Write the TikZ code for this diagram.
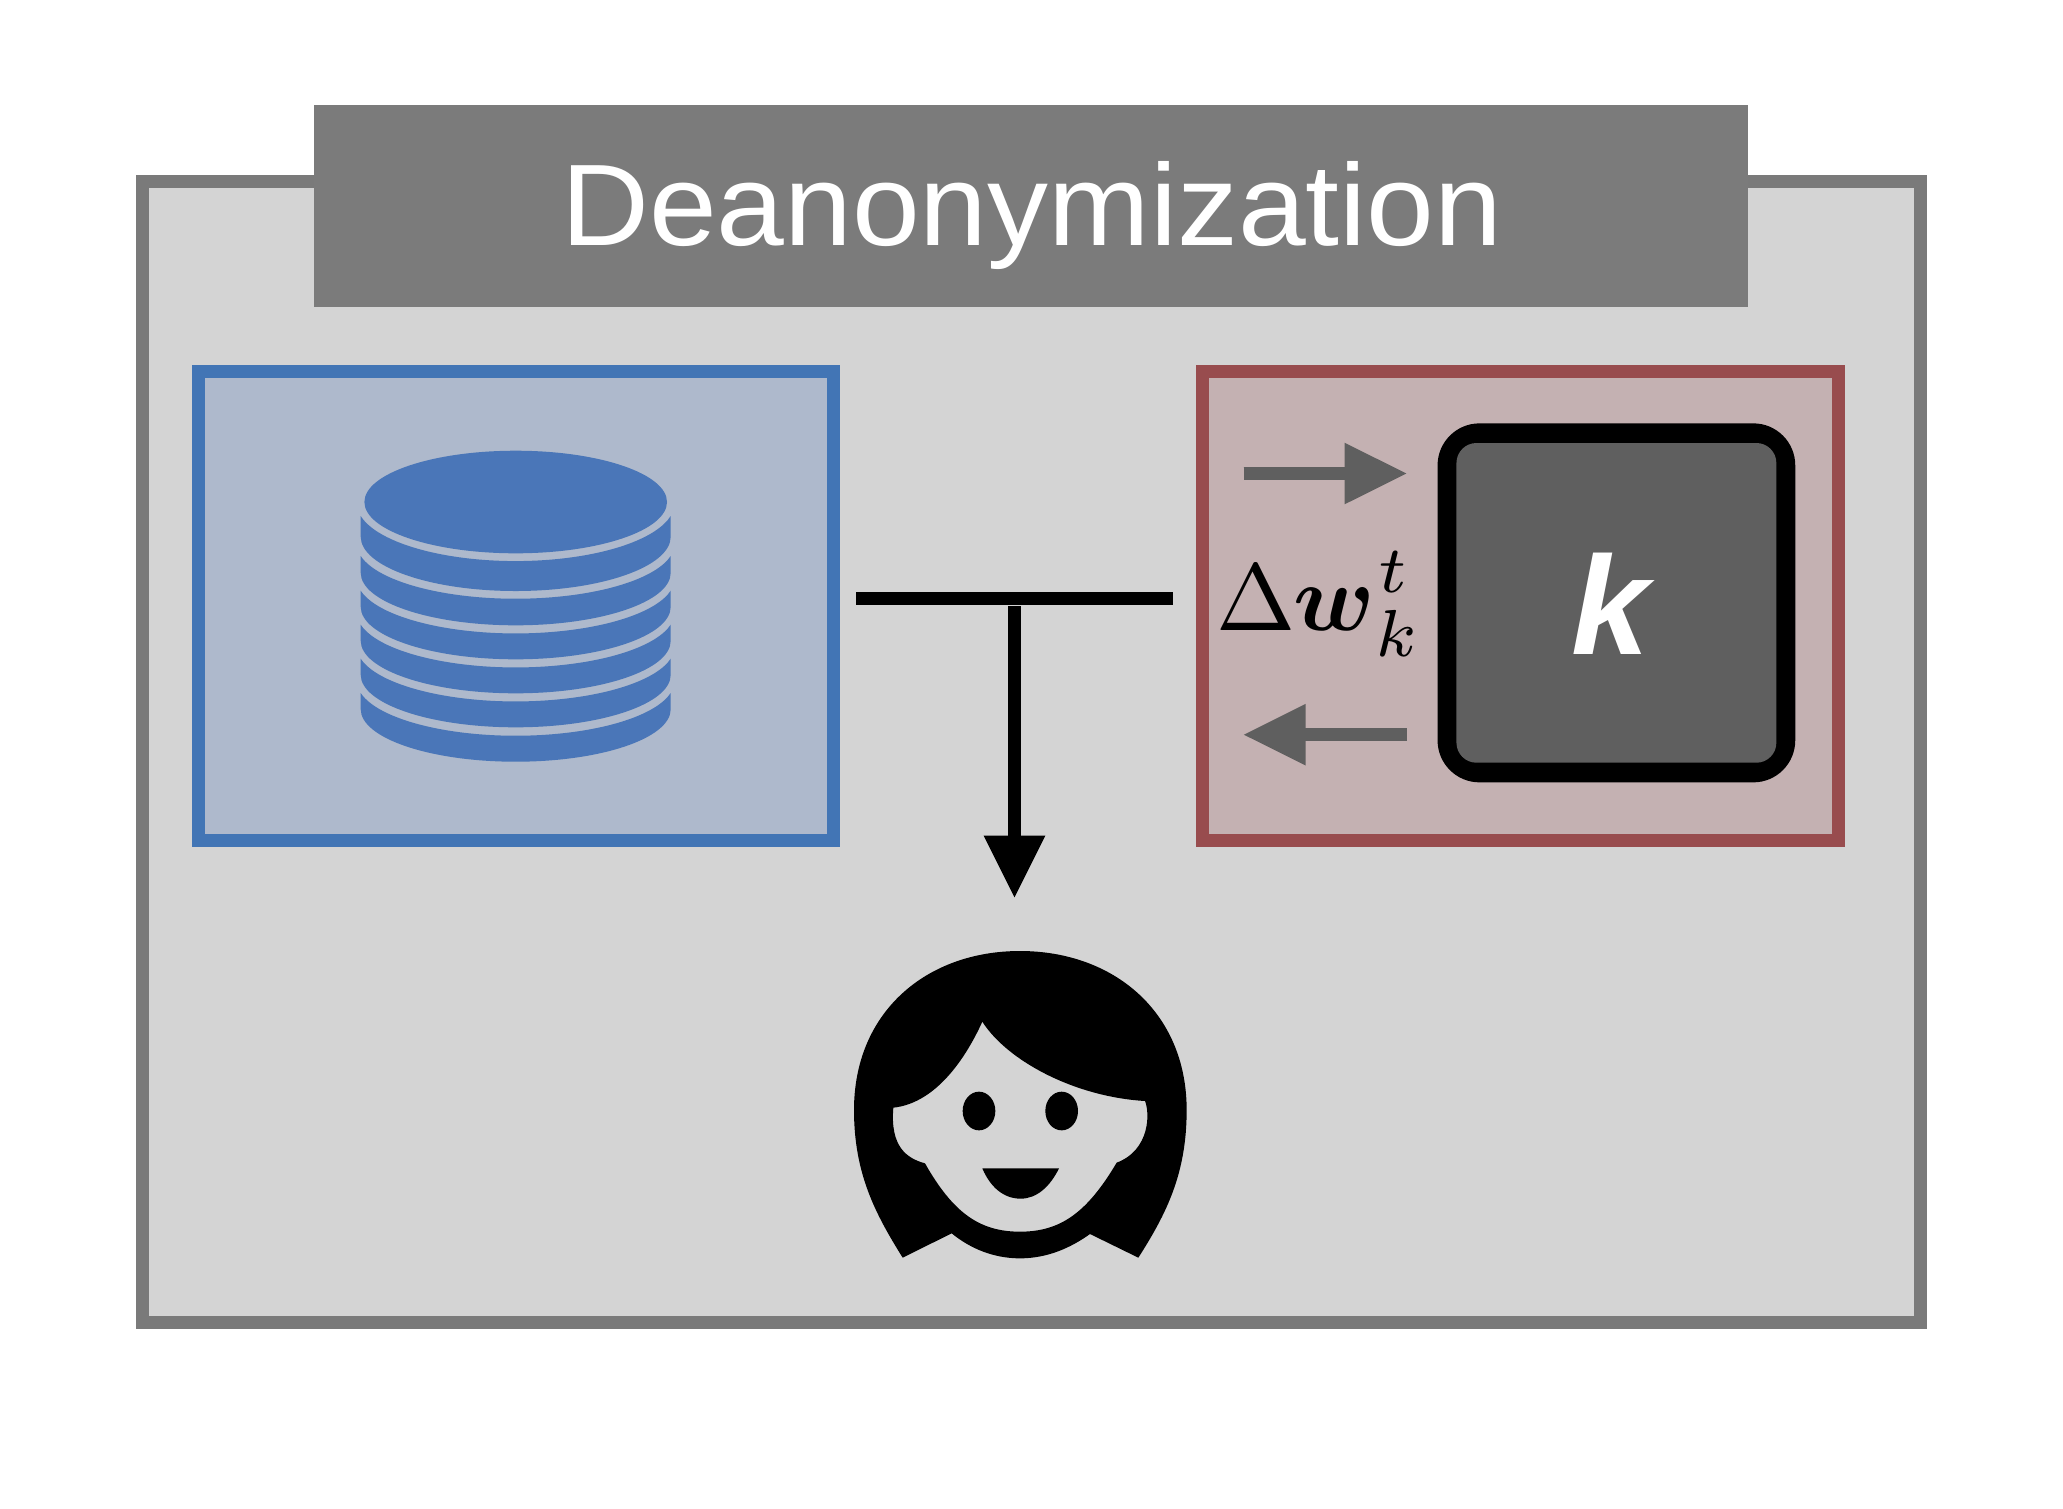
\documentclass[tikz,border=0pt]{standalone}
\usepackage{amsmath}
\usepackage[no-math]{fontspec}
\usetikzlibrary{arrows.meta}
\newfontfamily\headfont[FakeStretch=1.05]{Liberation Sans}
\newfontfamily\kfont{Liberation Sans}
\definecolor{outerfill}{HTML}{D4D4D4}
\definecolor{outerline}{HTML}{7A7A7A}
\definecolor{headfill}{HTML}{7B7B7B}
\definecolor{bluefill}{HTML}{AEB9CC}
\definecolor{blueline}{HTML}{4275B5}
\definecolor{dbblue}{HTML}{4A76B8}
\definecolor{redfill}{HTML}{C4B1B2}
\definecolor{redline}{HTML}{984C4E}
\definecolor{darkfill}{HTML}{5F5F5F}
\tikzset{
  boxnode/.style={rectangle,inner sep=0pt,outer sep=0pt,line width=13pt,miter limit=10},
  outerbox/.style={boxnode,draw=outerline,fill=outerfill},
  headbox/.style={rectangle,inner sep=0pt,outer sep=0pt,fill=headfill},
  bluebox/.style={boxnode,draw=blueline,fill=bluefill},
  redbox/.style={boxnode,draw=redline,fill=redfill},
  keybox/.style={rectangle,inner sep=0pt,outer sep=0pt,fill=black,rounded corners=42pt},
  keyface/.style={rectangle,inner sep=0pt,outer sep=0pt,fill=darkfill,rounded corners=20pt},
  greyarrow/.style={draw=darkfill,line width=13pt,-{Triangle[length=61.8pt,width=61.7pt,line width=0pt,fill=darkfill]}},
  greyshaft/.style={draw=darkfill,line width=13pt,shorten >=55pt},
  blackarrow/.style={draw=black,line width=13pt,-{Triangle[length=61.6pt,width=61.7pt,line width=0pt,fill=black]}},
  blackshaft/.style={draw=black,line width=13pt,shorten >=55pt},
  barline/.style={draw=black,line width=13pt},
  band/.style={fill=dbblue}
}
\begin{document}
\begin{tikzpicture}[x=1pt,y=-1pt]
\useasboundingbox (0,0) rectangle (2063,1508);
\fill[white] (0,0) rectangle (2063,1508);
% frames
\node[outerbox,minimum width=1778pt,minimum height=1141pt] (frame) at (1031.2,752) {};
\node[headbox,minimum width=1434.3pt,minimum height=201.6pt] (head) at (1031.2,206) {};
\node[anchor=base,inner sep=0pt,text=white,font=\headfont\fontsize{116}{120}\selectfont] (title) at (1031.7,245.7) {Deanonymization};
\node[bluebox,minimum width=635.3pt,minimum height=469pt] (db) at (515.85,606.2) {};
\node[redbox,minimum width=635.6pt,minimum height=468.7pt] (client) at (1520.2,606.3) {};
% database stack
\foreach \co/\b/\ryg/\ry in {693/761.7/55/52.5,658.7/727.3/55/52.5,624.7/693.3/55/52.5,590.7/659.3/55/52.5,556/625.3/55/52.5,516/591/58/54.3}{
  \fill[band] (360.7,\co) arc[start angle=167.1,end angle=12.9,x radius=159,y radius=\ryg]
     -- (670.7,\b-\ry) arc[start angle=0,end angle=180,x radius=155,y radius=\ry] -- cycle;
}
\fill[band] (515.7,502) ellipse[x radius=151.3,y radius=51.3];
% key box and labels
\node[keybox,minimum width=357.7pt,minimum height=359pt] (key) at (1616.4,602.85) {};
\node[keyface,minimum width=319.9pt,minimum height=319.7pt] (keyinner) at (1616.4,602.85) {};
\node[anchor=base,inner sep=0pt,text=white,font=\kfont\bfseries\itshape\fontsize{140}{140}\selectfont] (klabel) at (1610,654) {k};
\node[anchor=base west,inner sep=0pt,scale=9.5] (dw) at (1215,630) {$\Delta\mkern-0.4mu\boldsymbol{w}_{\raisebox{0.2pt}{$\scriptstyle k$}}^{\raisebox{0.35pt}{\kern0.3pt$\scriptstyle t$}}$};
% grey arrows
\coordinate (upa) at (1243.5,473.5);
\coordinate (upb) at (1406.3,473.5);
\coordinate (dna) at (1406.8,734.7);
\coordinate (dnb) at (1243.9,734.7);
\draw[greyshaft] (upa) -- (upb);
\draw[greyarrow] (upa) -- (upb);
\draw[greyshaft] (dna) -- (dnb);
\draw[greyarrow] (dna) -- (dnb);
% T connector
\coordinate (barl) at (856,598.8);
\coordinate (barr) at (1172.7,598.8);
\coordinate (stem) at (1014.5,606);
\coordinate (tip) at (1014.5,897.3);
\draw[barline] (barl) -- (barr);
\draw[blackshaft] (stem) -- (tip);
\draw[blackarrow] (stem) -- (tip);
% person
\begin{scope}[shift={(820,920)},x=0.33333pt,y=-0.33333pt]
\fill[black,even odd rule]
  (600,93) .. controls (880,93) and (1100,275) .. (1100,570)
  .. controls (1100,760) and (1040,880) .. (955,1013)
  -- (810,942)
  .. controls (750,985) and (680,1015) .. (600,1015)
  .. controls (520,1015) and (450,985) .. (395,940)
  -- (248,1013)
  .. controls (165,880) and (102,760) .. (102,570)
  .. controls (102,275) and (320,93) .. (600,93) -- cycle
  (487,305) .. controls (560,420) and (760,530) .. (975,543)
  .. controls (990,580) and (990,690) .. (890,728)
  .. controls (800,880) and (720,935) .. (600,935)
  .. controls (480,935) and (400,880) .. (315,730)
  .. controls (260,715) and (210,680) .. (220,563)
  .. controls (340,550) and (430,430) .. (487,305) -- cycle;
\fill[black] (477,573) ellipse[x radius=49,y radius=58];
\fill[black] (725,573) ellipse[x radius=49,y radius=58];
\fill[black] (487,745) -- (717,745) .. controls (690,800) and (650,836) .. (602,836)
  .. controls (550,836) and (510,800) .. (487,745) -- cycle;
\end{scope}
\end{tikzpicture}
\end{document}
